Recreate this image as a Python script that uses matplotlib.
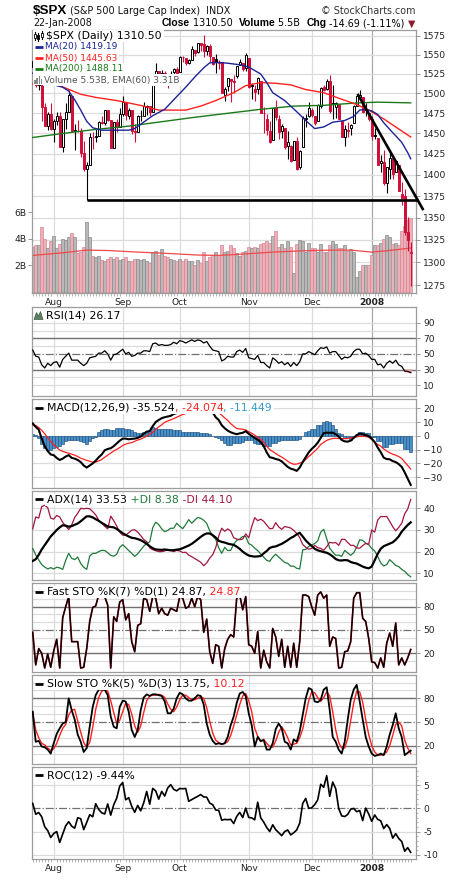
import numpy as np
import matplotlib
matplotlib.use("Agg")
import matplotlib.pyplot as plt
from matplotlib.patches import Rectangle, Polygon
from matplotlib.lines import Line2D
from matplotlib.ticker import FixedLocator, NullLocator
from matplotlib.transforms import blended_transform_factory

plt.rcParams['font.family'] = ['DejaVu Sans']

# ------------------------------------------------------------------ data
prev_close = 1534.10
opens = [1534.1, 1541.6, 1511.0, 1518.1, 1482.7, 1459.0, 1473.9,
         1455.2, 1465.5, 1472.2, 1433.0, 1467.7, 1476.2, 1497.2, 1453.4, 1453.4, 1452.9, 1426.1, 1406.6, 1411.3, 1445.9, 1445.6, 1447.0, 1464.1, 1462.3, 1479.4, 1466.3, 1432.0, 1463.7, 1457.6,
         1473.9, 1488.8, 1472.0, 1478.6, 1453.5, 1451.7, 1471.1, 1471.5, 1483.4, 1484.2, 1476.6, 1519.8, 1528.7, 1518.8, 1525.8, 1516.3, 1518.6, 1527.3, 1531.2,
         1527.3, 1546.9, 1545.8, 1539.9, 1543.6, 1556.5, 1553.2, 1565.0, 1564.7, 1555.4, 1562.3, 1547.8, 1544.4, 1539.3, 1540.0, 1497.8, 1509.3, 1519.1, 1516.2, 1522.2, 1536.9, 1539.4, 1532.2,
         1545.8, 1511.1, 1505.6, 1505.3, 1516.0, 1475.3, 1467.6, 1453.4, 1441.4, 1483.4, 1468.0, 1453.1, 1456.7, 1434.1, 1434.7, 1417.6, 1440.7, 1409.6, 1432.9, 1467.4, 1471.8,
         1479.6, 1471.3, 1465.2, 1484.6, 1508.6, 1505.1, 1516.0, 1487.6, 1483.3, 1486.2, 1465.1, 1445.9, 1454.7, 1456.4, 1463.2, 1484.6, 1495.1, 1495.0, 1479.8, 1475.3,
         1468.0, 1447.6, 1444.0, 1414.1, 1415.7, 1390.3, 1406.8, 1419.9, 1402.9, 1411.9, 1377.4, 1374.8, 1333.9, 1310.4]
highs = [1547.2, 1541.6, 1530.4, 1518.1, 1488.5, 1476.4, 1488.3,
         1468.4, 1476.4, 1476.3, 1467.7, 1488.3, 1503.9, 1497.2, 1462.0, 1466.3, 1456.7, 1440.8, 1415.4, 1450.3, 1451.8, 1455.3, 1464.9, 1472.1, 1479.4, 1479.4, 1466.3, 1463.8, 1468.4, 1481.5,
         1496.4, 1488.8, 1481.5, 1478.6, 1462.0, 1472.5, 1479.5, 1489.6, 1485.4, 1484.2, 1519.9, 1538.7, 1529.1, 1530.0, 1529.4, 1518.3, 1529.4, 1532.5, 1533.7,
         1549.0, 1548.0, 1545.8, 1544.0, 1561.9, 1556.5, 1565.3, 1565.4, 1576.1, 1563.0, 1564.7, 1547.8, 1550.7, 1542.8, 1540.0, 1508.1, 1520.0, 1519.1, 1523.2, 1535.5, 1544.7, 1539.4, 1552.8,
         1545.8, 1513.2, 1510.8, 1520.8, 1516.0, 1482.5, 1474.1, 1464.9, 1481.4, 1492.1, 1472.7, 1462.2, 1456.7, 1452.6, 1436.4, 1440.9, 1446.1, 1429.5, 1471.6, 1473.8, 1488.9,
         1481.2, 1471.3, 1486.1, 1508.0, 1510.6, 1518.3, 1523.6, 1511.0, 1489.4, 1486.7, 1465.1, 1460.2, 1464.4, 1461.5, 1485.4, 1497.6, 1504.7, 1495.0, 1488.0, 1475.8,
         1471.8, 1456.8, 1444.0, 1423.9, 1430.3, 1409.2, 1429.1, 1419.9, 1417.9, 1411.9, 1392.0, 1383.0, 1350.3, 1322.2]
lows = [1529.7, 1508.6, 1504.1, 1465.3, 1458.9, 1454.3, 1454.3,
        1439.6, 1460.6, 1433.0, 1427.4, 1455.8, 1476.2, 1453.1, 1429.7, 1451.5, 1421.0, 1404.4, 1370.6, 1411.3, 1430.5, 1440.0, 1447.0, 1461.6, 1460.3, 1465.0, 1432.0, 1432.0, 1451.3, 1457.6,
        1472.2, 1466.3, 1467.4, 1449.1, 1439.3, 1451.7, 1465.8, 1471.4, 1473.2, 1471.8, 1476.6, 1519.8, 1516.4, 1518.8, 1516.4, 1507.1, 1518.6, 1524.2, 1521.0,
        1527.3, 1540.6, 1536.3, 1537.6, 1543.6, 1549.0, 1551.8, 1555.5, 1546.7, 1549.8, 1540.8, 1536.3, 1526.0, 1531.8, 1500.3, 1490.4, 1503.6, 1489.6, 1500.5, 1520.2, 1536.9, 1529.4, 1529.4,
        1506.7, 1492.5, 1489.9, 1499.1, 1475.0, 1450.3, 1448.5, 1438.5, 1441.4, 1466.5, 1443.5, 1443.9, 1430.4, 1419.3, 1415.6, 1417.6, 1406.1, 1407.4, 1432.9, 1458.4, 1470.9,
        1470.1, 1460.7, 1465.2, 1482.2, 1502.7, 1504.2, 1475.9, 1468.2, 1469.2, 1467.8, 1445.4, 1435.0, 1445.3, 1447.5, 1463.2, 1484.6, 1492.3, 1475.9, 1471.7, 1465.1,
        1442.1, 1443.7, 1411.2, 1403.5, 1388.3, 1378.7, 1395.3, 1394.8, 1402.9, 1380.6, 1364.3, 1330.7, 1312.5, 1274.3]
closes = [1541.6, 1511.0, 1518.1, 1482.7, 1459.0, 1473.9, 1455.3,
          1465.8, 1472.2, 1433.1, 1467.7, 1476.7, 1497.5, 1453.1, 1453.6, 1452.9, 1426.5, 1406.7, 1411.3, 1445.9, 1445.6, 1447.1, 1464.1, 1462.5, 1479.4, 1466.8, 1432.4, 1463.8, 1457.6, 1474.0,
          1489.4, 1472.3, 1478.6, 1453.6, 1451.7, 1471.5, 1471.6, 1484.0, 1484.3, 1476.7, 1519.8, 1529.0, 1518.8, 1525.8, 1517.7, 1517.2, 1525.4, 1531.4, 1526.8,
          1547.0, 1546.6, 1539.6, 1542.8, 1557.6, 1552.6, 1565.2, 1562.5, 1554.4, 1561.8, 1548.7, 1538.5, 1541.2, 1540.1, 1500.6, 1506.3, 1519.6, 1515.9, 1514.4, 1535.3, 1541.0, 1531.0, 1549.4,
          1508.4, 1509.7, 1502.2, 1520.3, 1475.6, 1474.8, 1453.7, 1439.2, 1481.1, 1470.6, 1451.2, 1458.7, 1433.3, 1439.7, 1416.8, 1440.7, 1407.2, 1428.2, 1469.0, 1469.7, 1481.1,
          1472.4, 1462.8, 1485.0, 1507.3, 1504.7, 1516.0, 1477.7, 1486.6, 1488.4, 1468.0, 1445.9, 1455.0, 1453.0, 1460.1, 1484.5, 1496.5, 1497.7, 1476.3, 1478.5, 1468.4,
          1447.2, 1447.2, 1411.6, 1416.2, 1390.2, 1409.1, 1420.3, 1401.0, 1416.3, 1381.0, 1373.2, 1333.3, 1325.2, 1310.5]
volume_b = [3.4, 3.5, 3.5, 4.9, 4.0, 3.3, 3.8,
            4.2, 3.3, 3.6, 4.0, 3.9, 4.1, 4.4, 4.1, 2.9, 3.0, 3.4, 5.3, 4.1, 2.7, 2.6, 2.7, 2.4, 2.3, 2.5, 2.6, 2.5, 2.6, 2.4,
            2.5, 2.6, 2.3, 2.3, 2.5, 2.5, 2.4, 2.5, 2.3, 2.2, 3.0, 3.1, 2.8, 3.2, 2.7, 2.6, 2.5, 2.4, 2.3,
            2.5, 2.3, 2.5, 2.3, 2.3, 2.0, 2.4, 2.2, 3.0, 2.3, 2.6, 2.8, 3.0, 2.8, 3.5, 3.0, 3.1, 3.5, 3.3, 2.9, 2.7, 3.0, 3.1,
            3.4, 3.3, 3.4, 3.3, 3.6, 3.7, 3.8, 3.7, 4.2, 4.6, 3.4, 3.6, 3.3, 3.8, 3.4, 1.4, 3.6, 3.9, 3.8, 3.0, 3.7,
            3.3, 3.3, 3.0, 3.6, 3.0, 3.0, 3.5, 3.8, 3.6, 3.3, 3.3, 3.5, 3.1, 3.2, 3.0, 1.1, 1.6, 2.0, 2.0, 2.0,
            2.8, 3.5, 3.5, 3.7, 4.0, 4.3, 4.1, 3.6, 3.7, 3.5, 4.6, 5.0, 5.4, 5.53]

vol_ema_idx = [0, 10, 18, 25, 35, 45, 55, 62, 70, 80, 90, 100, 106, 113, 118, 122, 126]
vol_ema_val = [2.75, 2.95, 3.15, 3.12, 3.0, 2.9, 2.78, 2.75, 2.85, 3.0, 3.1, 3.15, 3.15, 3.0, 3.1, 3.2, 3.31]

ma20_idx = [0, 4, 8, 10, 12, 14, 16, 18, 20, 23, 28, 32, 34, 37, 40, 44, 48, 51, 54, 57, 59, 62, 65, 69, 72, 76, 78, 80,
            84, 88, 91, 94, 97, 100, 104, 107, 109, 111, 113, 115, 117, 119, 121, 123, 125, 126]
ma20_val = [1526, 1519, 1510, 1508, 1503, 1492, 1479, 1465, 1457, 1454, 1454, 1454, 1456, 1464, 1472, 1480, 1496, 1508,
            1521, 1533, 1539.5, 1540, 1539, 1537, 1534, 1525, 1514, 1501, 1491, 1477, 1466, 1456, 1458, 1463.9, 1466,
            1471.1, 1479.1, 1479.9, 1478, 1473.5, 1463.3, 1455, 1447.1, 1439.1, 1426.6, 1419.19]
ma50_idx = [0, 5, 9, 16, 21, 28, 32, 37, 42, 51, 56, 61, 67, 71, 76, 81, 86, 91, 97, 102, 108, 112, 117, 121, 126]
ma50_val = [1512, 1512, 1510, 1499, 1495, 1491, 1488, 1484, 1479, 1479, 1484, 1491, 1501, 1510, 1514, 1513, 1511,
            1505, 1501, 1494, 1486, 1479, 1468, 1458, 1445.63]
ma200_idx = [0, 10, 21, 32, 42, 54, 65, 76, 87, 97, 108, 115, 126]
ma200_val = [1445, 1450, 1455, 1459, 1464, 1470, 1475, 1480, 1484, 1485, 1488, 1489, 1488.11]

support_x = [18, 128.3]
support_y = [1370.6, 1370.6]
trend_x = [108.5, 130.0]
trend_y = [1498.0, 1360.0]

rsi = [55, 47, 46, 36, 32, 38, 35,
       39, 40, 33, 43, 47, 51, 42, 42, 42, 38, 35, 38, 45, 46, 47, 51, 51, 54, 50, 42, 49, 50, 53,
       56, 50, 52, 47, 48, 51, 51, 54, 54, 53, 63, 64, 61, 62, 61, 61, 62, 65, 63,
       67, 66, 64, 66, 68, 66, 68, 67, 64, 66, 60, 55, 54, 53, 41, 43, 47, 46, 46, 53, 55, 52, 57,
       45, 44, 43, 48, 39, 39, 35, 32, 45, 42, 38, 40, 36, 39, 34, 39, 35, 40, 50, 50, 53,
       51, 49, 54, 58, 57, 59, 51, 53, 53, 48, 43, 46, 45, 47, 53, 56, 56, 50, 51, 48,
       43, 43, 36, 37, 32, 38, 41, 38, 42, 36, 34, 28, 27.5, 26.17]

macd = [9.0, 6.5, 4.5, -2.0, -7.5, -11.0, -13.5,
        -14.0, -16.0, -17.5, -16.5, -15.0, -14.0, -16.0, -16.5, -17.5, -19.0, -21.5, -23.0, -21.5, -20.0, -18.0, -15.5, -13.5, -10.5, -9.5, -9.0, -7.5, -5.5, -3.5,
        -2.0, -2.0, -2.5, -2.2, -2.0, -1.5, -0.5, 1.5, 3.0, 3.5, 7.0, 10.0, 11.5, 12.8, 13.5, 14.0, 14.5, 15.8, 16.5,
        18.0, 19.0, 19.2, 19.5, 20.5, 21.0, 22.0, 22.3, 21.5, 21.3, 20.0, 17.0, 13.5, 11.5, 7.7, 5.5, 3.8, 2.6, 1.8, 1.2, 1.8, 2.2, 3.4,
        1.5, 0.0, -1.6, -2.8, -4.5, -7.5, -12.0, -15.5, -16.0, -16.8, -17.3, -18.5, -20.5, -22.5, -23.8, -24.4, -25.4, -23.0, -19.0, -15.5, -12.0,
        -9.5, -7.5, -5.0, -1.5, 2.0, 2.3, 2.2, 2.3, 1.2, -0.5, -3.0, -4.0, -4.2, -3.5, -1.5, 0.5, 1.7, 1.2, 0.5, -0.2,
        -2.0, -4.5, -8.5, -11.8, -15.8, -16.8, -17.0, -18.3, -19.0, -20.5, -22.5, -26.5, -31.0, -35.524]
signal = [7.8, 7.5, 6.0, 4.0, 1.5, -1.5, -4.0,
          -6.5, -8.5, -10.3, -11.2, -12.0, -12.6, -13.3, -14.0, -15.0, -16.2, -17.0, -17.8, -18.4, -19.0, -19.0, -18.2, -17.2, -15.5, -14.0, -12.5, -11.0, -9.8, -8.5,
          -7.0, -6.0, -5.3, -4.9, -4.0, -3.0, -2.4, -1.3, -0.3, 1.2, 2.5, 4.8, 6.5, 8.0, 9.8, 10.8, 11.6, 12.5, 13.5,
          14.5, 15.5, 16.2, 17.0, 17.8, 18.7, 19.3, 20.0, 20.2, 20.3, 20.1, 19.4, 18.2, 16.8, 15.0, 13.0, 11.2, 8.8, 7.0, 5.3, 5.0, 4.8, 4.3,
          3.0, 1.9, 0.5, -1.0, -2.5, -4.5, -7.5, -10.0, -11.3, -12.8, -14.2, -15.4, -16.8, -18.4, -19.8, -20.6, -20.5, -19.8, -19.0, -17.2, -15.0,
          -13.2, -11.0, -9.0, -6.3, -4.7, -3.3, -2.5, -1.9, -1.8, -1.9, -2.0, -2.0, -2.0, -1.5, -1.0, -0.7, -0.3, -0.2, -0.5, -1.0,
          -2.7, -4.8, -6.2, -7.5, -9.5, -11.0, -12.3, -13.3, -14.0, -15.0, -16.4, -19.0, -21.5, -24.074]
hist = [1.2, 0.5, -1.5, -5.6, -9.0, -10.0, -10.0,
        -9.0, -8.0, -7.0, -5.6, -4.0, -2.7, -2.7, -2.7, -2.7, -3.6, -4.5, -5.6, -3.5, -1.5, -1.0, 2.9, 4.0, 5.3, 5.3, 4.1, 4.1, 6.0, 6.0,
        6.0, 4.6, 4.6, 4.0, 2.5, 2.2, 2.2, 3.0, 3.6, 3.6, 6.5, 6.0, 5.3, 5.3, 5.3, 5.3, 5.3, 4.5, 4.1,
        4.1, 3.0, 2.9, 2.9, 2.9, 2.9, 2.9, 2.2, 2.2, 2.2, 1.5, -0.2, -0.5, -1.5, -3.0, -5.0, -6.5, -6.8, -5.5, -5.0, -5.0, -4.5, -2.7,
        -3.1, -3.1, -5.0, -5.6, -5.6, -7.0, -7.5, -7.0, -5.0, -5.0, -3.5, -3.1, -3.1, -3.1, -3.1, -2.7, -2.7, -2.0, 0.0, 2.9, 3.5,
        5.3, 5.3, 7.7, 7.7, 10.0, 10.5, 10.0, 7.7, 4.6, 2.2, 1.0, -1.9, -1.9, -3.1, -1.0, 0.5, 2.9, 2.9, 2.2, 2.2,
        -0.7, -0.7, -3.6, -3.6, -8.0, -8.0, -5.6, -5.6, -5.0, -5.0, -5.0, -9.2, -9.2, -11.449]

adx = [15.7, 16.5, 18.5, 21.0, 23.0, 25.0, 27.0,
       28.5, 30.0, 31.2, 32.2, 32.0, 31.5, 31.8, 32.4, 33.0, 34.0, 35.2, 36.3, 36.3, 35.8, 35.0, 34.2, 33.3, 32.5, 31.6, 31.4, 31.2, 30.5, 29.5,
       28.5, 27.7, 27.0, 26.4, 26.2, 25.8, 25.3, 24.5, 23.6, 22.5, 21.6, 21.0, 20.9, 20.8, 21.0, 20.8, 20.6, 20.7, 20.9,
       21.1, 21.6, 22.2, 22.8, 23.6, 24.6, 25.7, 26.8, 27.8, 28.4, 28.4, 27.6, 26.5, 25.0, 24.5, 24.2, 23.7, 23.4, 23.1, 22.3, 21.3, 20.0, 19.0,
       18.2, 17.9, 17.7, 17.8, 18.0, 19.2, 20.3, 21.7, 22.2, 22.4, 23.0, 23.6, 24.4, 25.3, 26.3, 27.0, 28.0, 28.7, 27.0, 25.2, 23.8,
       22.6, 21.3, 20.6, 20.2, 19.8, 19.5, 18.8, 17.8, 16.6, 16.0, 15.9, 16.1, 16.0, 15.2, 14.8, 14.5, 13.8, 13.1, 12.6, 12.3,
       13.1, 16.0, 19.0, 21.3, 22.5, 23.1, 23.7, 24.3, 25.5, 27.0, 29.2, 30.8, 32.3, 33.53]
plus_di = [21.5, 18.5, 16.2, 14.0, 12.9, 12.0, 12.6,
           12.0, 12.8, 12.5, 11.8, 16.0, 19.2, 16.9, 16.3, 17.5, 14.5, 12.8, 11.8, 18.0, 19.2, 19.2, 20.0, 20.6, 20.5, 19.5, 18.3, 17.9, 18.8, 22.0,
           23.2, 21.9, 20.5, 19.2, 17.8, 19.0, 20.8, 22.5, 23.8, 24.5, 31.0, 33.6, 32.5, 30.5, 29.2, 29.8, 30.8, 30.8, 33.1,
           31.7, 30.6, 32.5, 34.8, 33.1, 34.5, 35.8, 35.4, 34.5, 33.0, 29.7, 27.2, 25.7, 21.8, 19.2, 22.0, 20.5, 20.6, 23.5, 25.2, 25.8, 27.0, 27.0,
           23.7, 23.0, 21.6, 20.5, 18.9, 17.5, 16.0, 15.5, 17.5, 18.8, 17.5, 16.2, 15.0, 14.6, 13.3, 13.3, 12.3, 12.0, 20.8, 21.0, 22.4,
           23.1, 23.7, 25.0, 29.0, 30.3, 26.0, 21.6, 19.8, 18.3, 18.4, 17.8, 20.6, 19.4, 18.3, 19.5, 22.0, 25.5, 25.2, 23.9, 23.2,
           21.5, 20.3, 17.8, 14.8, 13.4, 14.0, 16.3, 15.0, 13.6, 13.1, 11.8, 10.9, 9.4, 8.38]
minus_di = [30.5, 36.0, 35.5, 40.8, 41.4, 40.3, 35.5,
            35.0, 36.7, 36.0, 33.5, 31.8, 30.2, 32.3, 35.8, 37.7, 40.0, 39.8, 40.0, 39.8, 38.5, 37.0, 34.5, 33.1, 31.7, 30.5, 36.4, 34.3, 31.8, 29.0,
            27.6, 27.6, 28.7, 29.9, 30.1, 29.0, 27.4, 25.6, 24.6, 21.8, 20.9, 20.4, 20.0, 20.0, 20.3, 21.0, 20.6, 20.0, 20.6,
            20.3, 19.6, 19.7, 18.4, 17.7, 16.8, 16.0, 15.1, 13.5, 14.8, 17.0, 18.6, 21.8, 27.2, 30.8, 29.4, 30.5, 29.5, 26.4, 25.8, 25.5, 25.8, 28.2,
            26.4, 31.5, 35.7, 34.3, 35.0, 34.0, 32.3, 30.6, 30.7, 33.4, 31.4, 30.3, 31.6, 31.3, 30.9, 29.8, 28.4, 26.5, 23.3, 22.0, 21.1,
            21.5, 22.9, 21.8, 21.5, 20.6, 22.3, 24.3, 24.0, 24.2, 22.9, 25.7, 25.7, 24.2, 22.9, 22.9, 21.7, 21.6, 22.8, 23.8, 23.4,
            30.0, 29.0, 34.6, 36.2, 36.2, 36.2, 34.0, 31.5, 29.6, 31.2, 33.1, 37.5, 39.7, 44.10]

fast_k = [47, 5, 26, 20, 1, 19, 2,
          23, 38, 1, 66, 80, 93, 35, 35, 35, 1, 2, 26, 61, 79, 81, 95, 95, 93, 82, 1, 67, 61, 86,
          89, 63, 71, 35, 22, 56, 58, 91, 89, 74, 93, 91, 71, 78, 71, 69, 78, 76, 74,
          93, 91, 78, 80, 91, 80, 93, 89, 47, 64, 22, 7, 31, 29, 1, 26, 38, 44, 41, 91, 95, 76, 93,
          31, 29, 20, 48, 1, 24, 9, 1, 52, 41, 16, 38, 2, 29, 2, 33, 2, 35, 95, 95, 93,
          80, 69, 95, 99, 91, 95, 29, 41, 39, 1, 2, 22, 23, 35, 91, 98, 98, 65, 61, 39,
          9, 8, 1, 14, 2, 33, 46, 29, 59, 5, 14, 5, 14, 24.87]
slow_k = [63, 25, 26, 19, 18, 15, 10,
          23, 35, 42, 48, 50, 80, 65, 53, 34, 25, 12, 17, 44, 69, 84, 91, 91, 91, 84, 57, 44, 42, 69,
          77, 76, 63, 40, 31, 40, 65, 81, 85, 83, 85, 85, 84, 83, 76, 61, 61, 67, 80,
          87, 85, 80, 77, 77, 80, 84, 83, 72, 48, 34, 26, 22, 23, 22, 23, 31, 46, 57, 74, 86, 88, 83,
          61, 46, 19, 31, 26, 27, 15, 15, 23, 41, 48, 42, 25, 23, 15, 28, 25, 38, 59, 80, 93,
          91, 76, 75, 78, 91, 94, 65, 31, 25, 15, 10, 25, 53, 78, 91, 97, 76, 53, 31, 19,
          10, 7, 8, 10, 8, 19, 34, 46, 61, 42, 31, 8, 11, 13.75]
slow_d = [62, 40, 30, 23, 21, 17, 14,
          16, 23, 33, 42, 47, 59, 65, 66, 51, 37, 24, 18, 24, 43, 66, 81, 89, 91, 89, 77, 62, 48, 52,
          63, 74, 72, 60, 45, 37, 45, 62, 77, 83, 84, 84, 85, 84, 81, 73, 66, 63, 69,
          78, 84, 84, 81, 78, 78, 80, 82, 80, 68, 51, 36, 27, 24, 22, 23, 25, 33, 45, 59, 72, 83, 86,
          77, 63, 42, 32, 25, 28, 23, 19, 18, 26, 37, 44, 38, 30, 21, 22, 23, 30, 41, 59, 77,
          88, 87, 81, 76, 81, 88, 83, 63, 40, 24, 17, 17, 29, 52, 74, 89, 88, 75, 53, 34,
          20, 12, 8, 8, 9, 12, 20, 33, 47, 50, 45, 27, 17, 10.12]
roc = [1.06, -1.27, -0.90, -1.81, -3.94, -4.77, -6.26,
       -5.40, -4.98, -7.32, -5.50, -3.74, -2.86, -3.83, -4.25, -2.01, -2.23, -4.56, -3.02, -1.36, -1.81, 0.98, -0.25, -0.96, -1.21, 0.94, -1.46, 0.75, 2.18, 4.78,
       5.53, 1.83, 2.28, 0.45, -0.85, 0.62, -0.53, 1.17, 3.62, 0.88, 4.27, 3.73, 1.97, 3.63, 2.64, 4.37, 5.08, 4.07, 3.75,
       4.25, 4.20, 4.26, 1.51, 1.87, 2.23, 2.58, 2.95, 2.45, 2.39, 1.13, 0.77, -0.37, -0.42, -2.53, -2.37, -2.44, -2.36, -3.25, -1.74, -0.86, -1.97, 0.05,
       -1.96, -2.04, -2.46, 1.31, -2.04, -2.95, -4.10, -4.97, -3.53, -4.57, -5.21, -5.85, -4.98, -4.64, -5.69, -5.24, -4.64, -3.16, 1.05, 2.12, 0.00,
       0.12, 0.80, 1.80, 5.16, 4.51, 7.00, 2.57, 5.64, 4.22, -0.07, -1.62, -1.76, -1.32, -0.18, -0.03, -0.72, -0.47, -2.62, 0.05, -1.22,
       -2.77, -1.42, -2.37, -2.67, -4.32, -3.49, -4.32, -6.38, -5.44, -6.46, -7.12, -9.20, -8.43, -9.44]

month_labels = ["Aug", "Sep", "Oct", "Nov", "Dec", "2008"]
month_idx = [7, 30, 49, 72, 93, 113]

price_ticks = [1275, 1300, 1325, 1350, 1375, 1400, 1425, 1450, 1475, 1500, 1525, 1550, 1575]
vol_ticks = [2, 4, 6]

series = dict(opens=opens, highs=highs, lows=lows, closes=closes, volume_b=volume_b, rsi=rsi, macd=macd,
              signal=signal, hist=hist, adx=adx, plus_di=plus_di, minus_di=minus_di, fast_k=fast_k,
              slow_k=slow_k, slow_d=slow_d, roc=roc)
lens = {k: len(v) for k, v in series.items()}
if len(set(lens.values())) != 1:
    raise ValueError(str(lens))

# ------------------------------------------------------------------ figure
W, H = 460, 880
fig = plt.figure(figsize=(W / 100, H / 100), dpi=100)
fig.patch.set_facecolor('white')
renderer = fig.canvas.get_renderer()

L, R = 32.5, 416.5
XL = -0.07
XR = XL + (R - L) / 3.0
n = len(closes)
x = np.arange(n)
o = np.array(opens); h = np.array(highs); lo = np.array(lows); c = np.array(closes)
prev = np.concatenate([[prev_close], c[:-1]])
up = c >= prev

FRAME = '#9c9c9c'
GRID = '#dcdcdc'
RED = '#d0103a'
TFS = 6.6
LFS = 6.5      # MA legend lines
PFS = 7.8      # panel legends and the $SPX line


def fxp(px):
    return px / W


def fyp(py):
    return 1 - py / H


def panel(top, bottom):
    ax = fig.add_axes([fxp(L), fyp(bottom), (R - L) / W, (bottom - top) / H])
    ax.set_xlim(XL, XR)
    for s in ax.spines.values():
        s.set_color(FRAME)
        s.set_linewidth(0.9)
    ax.yaxis.tick_right()
    ax.tick_params(axis='y', which='major', length=3, width=0.6, color='#888888',
                   labelsize=TFS, labelcolor='#222222', pad=2)
    ax.tick_params(axis='x', which='both', bottom=False, labelbottom=False, top=False)
    for j, m in enumerate(month_idx):
        ax.axvline(m, color='#a8a8a8' if month_labels[j] == '2008' else GRID, lw=0.9, zorder=0)
    return ax


def hgrid(ax, vals, color=GRID, ls='-', lw=0.9):
    for v in vals:
        ax.axhline(v, color=color, ls=ls, lw=lw, zorder=0.5)


def seg_text(x_px, y_px, parts, fs=PFS, half_h=6.0):
    """Legend line made of coloured pieces, with one white box behind it."""
    xx = x_px
    for s, col, bold in parts:
        t = fig.text(fxp(xx), fyp(y_px), s, color=col, fontsize=fs,
                     fontweight='bold' if bold else 'normal', va='center', ha='left', zorder=10)
        xx += t.get_window_extent(renderer).width
    fig.add_artist(Rectangle((fxp(x_px - 1.5), fyp(y_px + half_h)), (xx - x_px + 3.0) / W, 2 * half_h / H,
                             transform=fig.transFigure, fc='white', ec='none', zorder=9))
    return xx


def line_icon(y_px, color, x1=35, x2=43, lw=2.0):
    fig.add_artist(Line2D([fxp(x1), fxp(x2)], [fyp(y_px), fyp(y_px)], transform=fig.transFigure,
                          color=color, lw=lw, solid_capstyle='butt', zorder=11))


def month_ticks(ax, pad):
    ax.set_xticks(month_idx)
    ax.set_xticklabels(month_labels)
    ax.tick_params(axis='x', which='major', bottom=True, labelbottom=True, length=0, pad=pad,
                   labelsize=TFS, labelcolor='#222222')
    for lab in ax.get_xticklabels():
        if lab.get_text() == '2008':
            lab.set_fontweight('bold')
    ax.xaxis.set_minor_locator(FixedLocator(list(x)))
    ax.tick_params(axis='x', which='minor', bottom=True, length=1.8, width=0.5, color='#999999')


# ---------------- main price panel (volume axes underneath)
TOP, BOT = 30.3, 293.0
axv = panel(TOP, BOT)
axv.set_ylim(-0.075, 19.68)
axv.yaxis.tick_left()
axv.set_yticks(vol_ticks)
axv.set_yticklabels([f"{v}B" for v in vol_ticks])
axv.tick_params(axis='y', which='major', length=3, width=0.6, color='#888888', labelsize=TFS,
                labelcolor='#222222', pad=1.5)
month_ticks(axv, 3.5)

ax = fig.add_axes(axv.get_position())
ax.set_zorder(axv.get_zorder() + 1)
ax.patch.set_visible(False)
for s in ax.spines.values():
    s.set_visible(False)
ax.set_yscale('log')
ax.set_xlim(XL, XR)
ax.set_ylim(1266.4, 1582.6)
ax.yaxis.tick_right()
ax.yaxis.set_major_locator(FixedLocator(price_ticks))
ax.yaxis.set_minor_locator(NullLocator())
ax.set_yticklabels([str(p) for p in price_ticks])
ax.tick_params(axis='y', which='major', length=3, width=0.6, color='#888888', labelsize=TFS,
               labelcolor='#222222', pad=2)
ax.tick_params(axis='x', which='both', bottom=False, labelbottom=False)

# price gridlines drawn behind volume bars
btr = blended_transform_factory(axv.transAxes, ax.transData)
for p in price_ticks:
    axv.plot([0, 1], [p, p], transform=btr, color=GRID, lw=0.9, zorder=0.4)

# volume bars
vcol = np.where(up, '#b8b8b8', '#ecb0b9')
vedge = np.where(up, '#8a8a8a', '#d98593')
axv.bar(x, volume_b, width=0.85, color=vcol, edgecolor=vedge, linewidth=0.5, zorder=1)
axv.plot(vol_ema_idx, vol_ema_val, color='#f04848', lw=0.9, zorder=2)

# candles
ccol = np.where(up, 'black', RED)
ax.vlines(x, lo, h, colors=ccol, lw=0.8, zorder=2)
body_lo = np.minimum(o, c)
body_h = np.maximum(np.abs(c - o), 0.6)
face = np.where(c >= o, 'white', ccol)
ax.bar(x, body_h, bottom=body_lo, width=0.72, color=face, edgecolor=ccol, linewidth=0.7, zorder=2.5)

# moving averages
ax.plot(ma200_idx, ma200_val, color='#1a7a1a', lw=1.0, zorder=3)
ax.plot(ma50_idx, ma50_val, color='#ff2020', lw=1.0, zorder=3)
ax.plot(ma20_idx, ma20_val, color='#1c2496', lw=1.0, zorder=3)

# support / trend lines
ax.plot(support_x, support_y, color='black', lw=1.9, zorder=4, clip_on=False, solid_capstyle='butt')
ax.plot(trend_x, trend_y, color='black', lw=1.9, zorder=4, clip_on=False)

# main legend
ys = [36, 47.0, 58.0, 69.0, 80.0]
seg_text(46.5, ys[0], [("$SPX (Daily) 1310.50", 'black', False)], fs=PFS, half_h=5.6)
seg_text(45, ys[1], [("MA(20) 1419.19", '#1c2496', False)], fs=LFS, half_h=5.6)
seg_text(45, ys[2], [("MA(50) 1445.63", '#ff2020', False)], fs=LFS, half_h=5.6)
seg_text(45, ys[3], [("MA(200) 1488.11", '#1a7a1a', False)], fs=LFS, half_h=5.6)
seg_text(44.5, ys[4], [("Volume 5.53B, EMA(60) 3.31B", '#555555', False)], fs=LFS, half_h=5.6)
fig.add_artist(Rectangle((fxp(33.2), fyp(85.5)), 12.5 / W, 55 / H, transform=fig.transFigure,
                         fc='white', ec='none', zorder=9))
for k, (xc, y1, y2, b1, b2) in enumerate([(35.0, 32.0, 40.0, 34.0, 38.0), (38.5, 33.0, 41.0, 35.0, 39.5),
                                          (42.0, 31.5, 39.5, 33.0, 37.0)]):
    fig.add_artist(Line2D([fxp(xc), fxp(xc)], [fyp(y1), fyp(y2)], transform=fig.transFigure,
                          color='black', lw=0.8, zorder=11))
    fig.add_artist(Rectangle((fxp(xc - 1.0), fyp(b2)), 2.0 / W, (b2 - b1) / H, transform=fig.transFigure,
                             fc='white' if k != 1 else 'black', ec='black', lw=0.6, zorder=12))
line_icon(ys[1], '#1c2496')
line_icon(ys[2], '#ff2020')
line_icon(ys[3], '#1a7a1a')
for k, hh in enumerate([4, 6, 8, 5]):
    fig.add_artist(Rectangle((fxp(34.2 + 2.2 * k), fyp(84)), 1.6 / W, hh / H, transform=fig.transFigure,
                             fc='#8a8a8a', ec='none', zorder=12))

# header
t1 = fig.text(fxp(33), fyp(10.5), "$SPX", fontsize=9.6, fontweight='bold',
              family=['Liberation Sans', 'DejaVu Sans'], va='center', ha='left')
x1 = 33 + t1.get_window_extent(renderer).width + 3
fig.text(fxp(x1), fyp(11), "(S&P 500 Large Cap Index)  INDX", fontsize=6.9, va='center', ha='left',
         color='#111111')
fig.text(fxp(416), fyp(11), "\u00a9 StockCharts.com", fontsize=6.9, va='center', ha='right', color='#333333')
fig.text(fxp(33), fyp(23.3), "22-Jan-2008", fontsize=6.9, va='center', ha='left', color='#111111')
parts = [("Close", True, 'black'), (" 1310.50  ", False, 'black'), ("Volume", True, 'black'),
         (" 5.5B  ", False, 'black'), ("Chg", True, 'black'), (" -14.69 (-1.11%) ", False, 'black'),
         ("\u25bc", False, '#8b1a2b')]
objs = []
tot = 0
for s, b, col in parts:
    t = fig.text(0, fyp(23.3), s, fontsize=6.9 if not b else 7.4, fontweight='bold' if b else 'normal',
                 va='center', ha='left', color=col,
                 family=['Liberation Sans', 'DejaVu Sans'] if b else ['DejaVu Sans'])
    wdt = t.get_window_extent(renderer).width
    objs.append((t, wdt))
    tot += wdt
xx = 415 - tot
for t, wdt in objs:
    t.set_x(fxp(xx))
    xx += wdt

# ---------------- RSI
ax_r = panel(307.0, 396.0)
ax_r.set_ylim(-4.0, 110.2)
ax_r.set_yticks([10, 30, 50, 70, 90])
hgrid(ax_r, [10, 20, 40, 60, 80, 90])
hgrid(ax_r, [30, 70], color='#707070', lw=1.0)
hgrid(ax_r, [50], color='#707070', ls='-.', lw=0.9)
ax_r.plot(x, rsi, color='black', lw=0.9, zorder=3)
ax_r.fill_between(x, rsi, 30, where=np.array(rsi) < 30, color='#e8a0a0', zorder=2, interpolate=True)
seg_text(46, 315.3, [("RSI(14) 26.17", 'black', False)])
fig.add_artist(Polygon([(fxp(34), fyp(319.5)), (fxp(36.5), fyp(312.5)), (fxp(38.5), fyp(316)),
                        (fxp(40.5), fyp(311.5)), (fxp(43), fyp(319.5))], closed=True,
                       transform=fig.transFigure, fc='#5f7f60', ec='#3f5f40', lw=0.5, zorder=11))

# ---------------- MACD
ax_m = panel(399.0, 488.0)
ax_m.set_ylim(-37.8, 26.7)
ax_m.set_yticks([-30, -20, -10, 0, 10, 20])
hgrid(ax_m, [-30, -20, -10, 0, 10, 20])
ax_m.bar(x, hist, width=0.85, color='#4a90c8', edgecolor='#1f5080', linewidth=0.45, zorder=2)
ax_m.plot(x, signal, color='#ff2020', lw=0.9, zorder=3)
ax_m.plot(x, macd, color='black', lw=1.5, zorder=4)
seg_text(47, 407.5, [("MACD(12,26,9) -35.524", 'black', False), (", -24.074", '#ff2020', False),
                     (", -11.449", '#3399cc', False)])
line_icon(407.5, 'black')

# ---------------- ADX
ax_a = panel(491.0, 580.0)
ax_a.set_ylim(6.9, 48.0)
ax_a.set_yticks([10, 20, 30, 40])
hgrid(ax_a, [10, 20, 30, 40])
ax_a.plot(x, plus_di, color='#1f7a3a', lw=0.9, zorder=3)
ax_a.plot(x, minus_di, color='#a3163f', lw=0.9, zorder=3)
ax_a.plot(x, adx, color='black', lw=1.6, zorder=4)
seg_text(47, 499.5, [("ADX(14) 33.53", 'black', False), (" +DI 8.38", '#1f7a3a', False),
                     (" -DI 44.10", '#a3163f', False)])
line_icon(499.5, 'black')

# ---------------- Fast STO
ax_f = panel(583.0, 672.0)
ax_f.set_ylim(-4.1, 110.5)
ax_f.set_yticks([20, 50, 80])
hgrid(ax_f, [10, 30, 40, 60, 70, 90, 100])
hgrid(ax_f, [20, 80], color='#707070', lw=1.0)
hgrid(ax_f, [50], color='#707070', ls='-.', lw=0.9)
ax_f.plot(x, fast_k, color='#c01525', lw=1.25, zorder=3)
ax_f.plot(x, fast_k, color='black', lw=0.95, zorder=4)
seg_text(47, 591.7, [("Fast STO %K(7) %D(1) 24.87,", 'black', False), (" 24.87", '#ff2020', False)])
line_icon(591.7, 'black')

# ---------------- Slow STO
ax_s = panel(675.0, 764.0)
ax_s.set_ylim(-3.2, 109.5)
ax_s.set_yticks([20, 50, 80])
hgrid(ax_s, [10, 30, 40, 60, 70, 90, 100])
hgrid(ax_s, [20, 80], color='#707070', lw=1.0)
hgrid(ax_s, [50], color='#707070', ls='-.', lw=0.9)
ax_s.plot(x, slow_d, color='#ff2020', lw=1.0, zorder=3)
ax_s.plot(x, slow_k, color='black', lw=1.3, zorder=4)
seg_text(47, 684, [("Slow STO %K(5) %D(3) 13.75,", 'black', False), (" 10.12", '#ff2020', False)])
line_icon(684, 'black')

# ---------------- ROC
ax_c = panel(767.0, 859.0)
ax_c.set_ylim(-10.86, 8.86)
ax_c.set_yticks([-10, -5, 0, 5])
ax_c.set_yticklabels(['-10', '-5', '0', '5'])
ax_c.yaxis.set_minor_locator(FixedLocator(list(range(-10, 9))))
ax_c.tick_params(axis='y', which='minor', right=True, length=1.5, width=0.5, color='#999999')
hgrid(ax_c, [-10, -5, 5])
hgrid(ax_c, [0], color='#707070', ls='-.', lw=0.9)
ax_c.plot(x, roc, color='black', lw=1.2, zorder=3)
seg_text(47, 775.3, [("ROC(12) -9.44%", 'black', False)])
line_icon(775.3, 'black')
month_ticks(ax_c, 3.5)

fig.savefig('out.png', dpi=100, facecolor='white')
